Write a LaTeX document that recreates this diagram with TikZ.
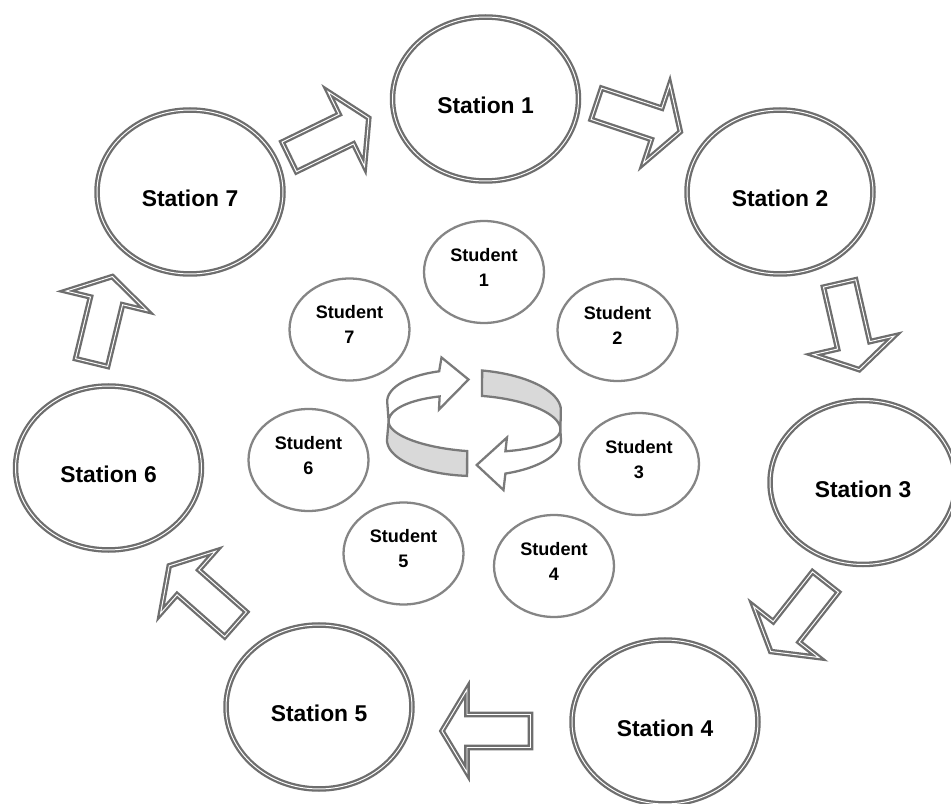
\documentclass[tikz,border=0pt]{standalone}
\usepackage{fontspec}
\setmainfont{Liberation Sans}
\usetikzlibrary{shapes.geometric}
\definecolor{stgray}{HTML}{6E6E6E}
\definecolor{sdgray}{HTML}{858585}
\definecolor{ringline}{HTML}{7A7A7A}
\definecolor{ringfill}{HTML}{D9D9D9}
\tikzset{
  station/.style={ellipse, draw=stgray, line width=1.3pt, double=white, double distance=0.55pt,
    fill=white, minimum width=3.72cm, minimum height=3.28cm, inner sep=0pt},
  stlabel/.style={font=\fontsize{13}{15}\selectfont\bfseries, text=black, yshift=-3.7pt},
  student/.style={ellipse, draw=sdgray, line width=1.3pt, fill=white,
    minimum width=2.4cm, minimum height=2.04cm, inner sep=0pt},
  sdlabel/.style={font=\fontsize{10.3}{14.2}\selectfont\bfseries, text=black, align=center, yshift=2.8pt},
  blockarr/.style={draw=stgray, line width=1.3pt, double=white, double distance=0.55pt,
    fill=white, line join=miter},
  ringpart/.style={draw=ringline, line width=1.3pt, line join=miter},
}
\newcommand{\BlkArr}[2]{%
  \draw[blockarr, shift={#1}, rotate=#2]
    (2.5,-16.5) -- (66,-16.5) -- (66,-41.5) -- (91,0) -- (66,41.5) -- (66,16.5) -- (2.5,16.5) -- cycle;}
\begin{document}
\begin{tikzpicture}[x=0.02cm, y=-0.02cm]
\useasboundingbox (0,0) rectangle (951,804);
\clip (0,0) rectangle (951,804);
\fill[white] (0,0) rectangle (951,804);

% stations
\node[station, label={[stlabel]center:Station 1}] (st1) at (485.5,99) {};
\node[station, label={[stlabel]center:Station 2}] (st2) at (780,192) {};
\node[station, label={[stlabel]center:Station 3}] (st3) at (863,482.5) {};
\node[station, label={[stlabel]center:Station 4}] (st4) at (665,722) {};
\node[station, label={[stlabel]center:Station 5}] (st5) at (319,707) {};
\node[station, label={[stlabel]center:Station 6}] (st6) at (108.5,468) {};
\node[station, label={[stlabel]center:Station 7}] (st7) at (190,192) {};

% block arrows between stations
\BlkArr{(594,103)}{-18.4}
\BlkArr{(839,281)}{-77.1}
\BlkArr{(827,580)}{-128.2}
\BlkArr{(533,731)}{180}
\BlkArr{(237.5,626)}{138.6}
\BlkArr{(91,365)}{76.4}
\BlkArr{(287,158)}{26}

% students
\node[student, label={[sdlabel]center:Student\\1}] (sd1) at (484,272) {};
\node[student, label={[sdlabel]center:Student\\2}] (sd2) at (617.5,330) {};
\node[student, label={[sdlabel]center:Student\\3}] (sd3) at (639,464) {};
\node[student, label={[sdlabel]center:Student\\4}] (sd4) at (554,566) {};
\node[student, label={[sdlabel]center:Student\\5}] (sd5) at (403.5,553.5) {};
\node[student, label={[sdlabel]center:Student\\6}] (sd6) at (308.5,460) {};
\node[student, label={[sdlabel]center:Student\\7}] (sd7) at (349.5,329.5) {};

% central circular arrows
% back-left arrow
\draw[ringpart, fill=white]
  plot[domain=180:245, samples=30] ({474+87*cos(\x)*0.99834-36*sin(\x)*0.05756}, {406+87*cos(\x)*0.05756+36*sin(\x)*0.99834})
  -- (441.5,357.5) -- (468.5,379.5) -- (439,409.5)
  -- plot[domain=245:180, samples=30] ({474.5+86*cos(\x)*0.9986-30*sin(\x)*0.0523}, {425.5+86*cos(\x)*0.0523+30*sin(\x)*0.9986})
  -- cycle;
% back-right gray band
\draw[ringpart, fill=ringfill]
  plot[domain=274:360, samples=30] ({474+87*cos(\x)*0.99834-36*sin(\x)*0.05756}, {406+87*cos(\x)*0.05756+36*sin(\x)*0.99834})
  -- plot[domain=360:274, samples=30] ({474.5+86*cos(\x)*0.9986-30*sin(\x)*0.0523}, {425.5+86*cos(\x)*0.0523+30*sin(\x)*0.9986})
  -- cycle;
% front-left gray band
\draw[ringpart, fill=ringfill]
  plot[domain=180:94, samples=30] ({474.5+86*cos(\x)*0.9986-26*sin(\x)*0.0523}, {425.5+86*cos(\x)*0.0523+26*sin(\x)*0.9986})
  -- plot[domain=94.55:180, samples=30] ({474+87*cos(\x)}, {440+36*sin(\x)})
  -- cycle;
% front-right arrow
\draw[ringpart, fill=white]
  plot[domain=0:68, samples=30] ({474.5+86*cos(\x)*0.9986-26*sin(\x)*0.0523}, {425.5+86*cos(\x)*0.0523+26*sin(\x)*0.9986})
  -- (507,437.5) -- (476.7,465) -- (503.5,490)
  -- plot[domain=68.84:0, samples=30] ({474+87*cos(\x)}, {440+36*sin(\x)})
  -- cycle;
\end{tikzpicture}
\end{document}
